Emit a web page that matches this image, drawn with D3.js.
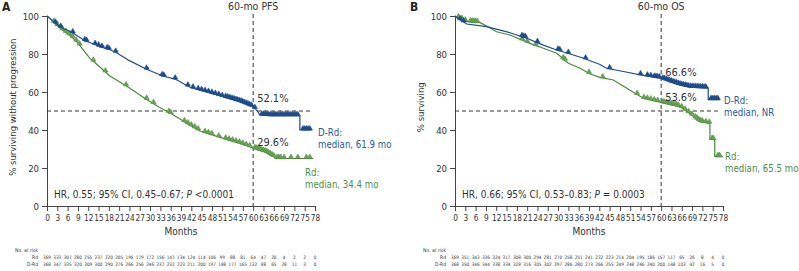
<!DOCTYPE html>
<html>
<head>
<meta charset="utf-8">
<script src="https://cdn.jsdelivr.net/npm/d3@7"></script>
<style>
  html, body { margin: 0; background: #fff; overflow: hidden; }
  svg { display: block; }
  svg text { font-family: "DejaVu Sans Condensed", "Liberation Sans Narrow", "Liberation Sans", sans-serif; fill: #333; }
</style>
</head>
<body>
<div class="km-plot"></div>
<script>
// tick labels
const months = [0, 3, 6, 9, 12, 15, 18, 21, 24, 27, 30, 33, 36, 39, 42, 45, 48, 51, 54, 57, 60, 63, 66, 69, 72, 75, 78];
const pctTicks = [0, 20, 40, 60, 80, 100];

// PFS curves [month, %]
const pfsDRd = [[0, 100], [1, 98.5], [3.8, 94.2], [7, 91.7], [11, 87], [14, 85], [15.4, 83.8], [17.8, 82.6], [20, 80.9],
  [24, 76.5], [29, 72], [33.7, 68.4], [37.3, 66.8], [41.6, 62.5], [44.5, 61], [48, 59.3], [51.3, 57.5], [56.2, 54.9],
  [60, 52.1], [61, 50.5], [62, 47.9], [64.9, 47.5], [73.6, 47.5], [73.6, 40], [77, 40]];
const pfsRd = [[0, 100], [1, 98.5], [3.8, 93.5], [7.2, 89.1], [9.1, 85.6], [10.6, 82.1], [12.5, 77.7], [14, 75.4],
  [18.3, 68.4], [23.7, 62.5], [29, 56.1], [32.7, 52], [36.8, 47.9], [40.7, 43.5], [44.5, 39.5], [51.3, 35.6],
  [56.2, 33], [60, 30.5], [63.9, 28.2], [66.8, 25], [77.5, 25]];
const pfsDRdCens = [2.5, 4, 7.5, 11, 11.5, 14, 15, 16, 17.5, 18, 20, 29, 33.5, 34, 37.3, 41, 42.5, 44, 45, 46, 47, 48,
  49, 50, 51, 52, 52.5, 53, 53.5, 54, 54.5, 55, 55.5, 56, 56.5, 57, 57.5, 58, 58.5, 59, 59.5, 60.5, 62.5, 63, 63.5,
  64, 64.5, 65, 65.5, 66, 66.5, 67, 67.5, 68, 68.5, 69, 69.5, 70, 70.5, 71, 71.5, 72, 72.5, 73, 74.5, 75, 75.5, 76, 76.5];
const pfsRdCens = [2, 3, 4.5, 5.5, 6.5, 7.5, 8.5, 9.5, 13.5, 17, 23, 29, 31, 35.5, 36, 40, 41, 42, 43, 44, 46, 47, 48,
  50, 52, 53, 54, 55, 56, 57, 58, 59, 60.5, 61, 61.5, 62, 62.5, 63, 63.5, 64, 64.5, 65, 65.5, 66, 67, 67.5, 68, 69,
  71, 73, 75.5, 76.5];

// OS curves [month, %]
const osDRd = [[0, 100], [1.3, 98.2], [3.4, 95.8], [9.2, 94.4], [16, 91.2], [20.9, 88.3], [25.7, 84.7], [29, 82.5],
  [33.5, 80], [37, 78], [42.2, 74.5], [44.1, 72.5], [49, 70.8], [54.3, 68.9], [60, 67.2], [62.5, 65.5], [65.5, 63.7],
  [68.4, 62.5], [73.7, 62], [73.7, 56], [77.1, 56]];
const osRd = [[0, 100], [1.5, 98.5], [3.4, 97], [7.3, 96.5], [10, 94], [12.1, 91.7], [16, 90], [21.8, 85.6],
  [25.7, 83], [29.6, 80.4], [33, 75.1], [36.4, 72.5], [39.3, 69.5], [42.2, 67.7], [46.1, 66.3], [50, 62],
  [54.8, 56.7], [60, 54.5], [65.5, 52.3], [68.9, 47.9], [71.3, 44.4], [74.2, 43.5], [74.2, 35], [75.6, 35],
  [75.6, 26], [78, 26]];
const osDRdCens = [1.5, 2.5, 19.5, 20, 20.5, 24, 30, 30.5, 33, 38, 45, 54, 56, 57, 58, 58.5, 59, 59.5, 60.5, 61, 61.5,
  62, 62.5, 63, 63.5, 64, 64.5, 65, 65.5, 66, 66.5, 67, 67.5, 68, 68.5, 69, 69.5, 70, 70.5, 71, 71.5, 72, 72.5, 73,
  74.5, 75, 75.5, 76, 76.5];
const osRdCens = [1, 2, 3, 4.5, 5, 5.5, 6, 6.5, 19.5, 21, 23.5, 31.5, 32, 39, 43, 53, 55, 56, 57, 58, 59, 60.5, 61,
  61.5, 62, 62.5, 63, 63.5, 64, 64.5, 65, 66, 67, 68, 69, 70, 70.5, 71, 71.5, 72, 73, 74, 74.8, 75.2, 76.5, 77];

// numbers at risk
const pfsRiskRd = [369, 333, 307, 280, 255, 237, 220, 205, 196, 179, 172, 156, 147, 134, 124, 114, 106, 99, 88, 81, 64, 47, 20, 4, 2, 2, 0];
const pfsRiskDRd = [368, 347, 335, 320, 309, 300, 290, 276, 266, 256, 246, 237, 232, 223, 211, 200, 197, 188, 177, 165, 132, 88, 65, 28, 11, 3, 0];
const osRiskRd = [369, 351, 343, 336, 324, 317, 308, 300, 294, 281, 270, 258, 251, 241, 232, 223, 214, 204, 195, 186, 157, 117, 65, 26, 8, 4, 0];
const osRiskDRd = [368, 350, 346, 344, 338, 334, 328, 316, 305, 302, 297, 286, 280, 273, 266, 255, 249, 248, 246, 240, 200, 148, 103, 42, 16, 5, 0];

const blue = '#1d4c8c';
const green = '#4a8a3a';

const svg = d3.select('.km-plot').append('svg')
  .attr('width', 799).attr('height', 271);

// y of the drawn curve at a censoring time
function yAt(pts, m) {
  for (let i = pts.length - 1; i > 0; i--) {
    const a = pts[i - 1], b = pts[i];
    if (m >= a[0] && m <= b[0]) {
      if (b[0] === a[0]) return b[1];
      return a[1] + (b[1] - a[1]) * (m - a[0]) / (b[0] - a[0]);
    }
  }
  return pts[pts.length - 1][1];
}

function drawPanel(p) {
  const x = d3.scaleLinear().domain([0, 78]).range([p.left, p.left + 268]);
  const y = d3.scaleLinear().domain([0, 100]).range([206, 16]);
  const g = svg.append('g');

  g.append('text').attr('x', p.left - 45).attr('y', 11)
    .attr('font-weight', 'bold').attr('font-size', 12).style('fill', '#222').text(p.letter);

  // axes
  const xa = g.append('g').attr('transform', 'translate(0,206)')
    .call(d3.axisBottom(x).tickValues(months).tickSize(5).tickSizeOuter(0));
  const ya = g.append('g').attr('transform', `translate(${p.left},0)`)
    .call(d3.axisLeft(y).tickValues(pctTicks).tickSize(5).tickSizeOuter(0));
  [xa, ya].forEach(a => {
    a.selectAll('path, line').attr('stroke', '#444');
  });
  xa.selectAll('text').attr('font-size', 8.2).attr('dy', '0.9em');
  ya.selectAll('text').attr('font-size', 9.5);

  g.append('text').attr('x', x(39)).attr('y', 235).attr('text-anchor', 'middle')
    .attr('font-size', 10).text('Months');
  g.append('text').attr('transform', `translate(${p.ylabX},${y(52)}) rotate(-90)`)
    .attr('text-anchor', 'middle').attr('font-size', 9.5).text(p.ylab);

  // reference lines
  g.append('line').attr('x1', x(60)).attr('x2', x(60)).attr('y1', 14).attr('y2', 206)
    .attr('stroke', '#333').attr('stroke-dasharray', '4,3');
  g.append('line').attr('x1', x(0)).attr('x2', x(p.hEnd)).attr('y1', y(50)).attr('y2', y(50))
    .attr('stroke', '#333').attr('stroke-dasharray', '4,3');
  g.append('text').attr('x', x(60)).attr('y', 10).attr('text-anchor', 'middle')
    .attr('font-size', 10.5).text(p.title);

  const line = d3.line().x(d => x(d[0])).y(d => y(d[1]));
  const series = [
    { pts: p.rd, cens: p.rdCens, color: green, fill: '#6aa556' },
    { pts: p.drd, cens: p.drdCens, color: blue, fill: blue }
  ];
  series.forEach(s => {
    g.append('path').datum(s.pts).attr('d', line)
      .attr('fill', 'none').attr('stroke', s.color).attr('stroke-width', 1.2);
    g.append('g').selectAll('path').data(s.cens).join('path')
      .attr('d', d3.symbol(d3.symbolTriangle, 12))
      .attr('transform', d => `translate(${x(d)},${y(yAt(s.pts, d)) - 1.5})`)
      .attr('fill', s.fill).attr('stroke', s.color).attr('stroke-width', 0.5);
  });

  // annotations
  p.notes.forEach(n => {
    g.append('text').attr('x', x(60) + 4).attr('y', n.y).attr('font-size', 11).text(n.t);
  });
  p.legend.forEach(l => {
    [l.a, l.b].forEach((s, i) => {
      g.append('text').attr('x', l.x).attr('y', l.y + i * 11.5).attr('font-size', 9.6)
        .style('fill', l.color).text(s);
    });
  });
  const hr = g.append('text').attr('x', x(0) + 7).attr('y', 198).attr('font-size', 10);
  hr.append('tspan').text(p.hr);
  hr.append('tspan').attr('font-style', 'italic').text('P');
  hr.append('tspan').text(p.pval);

  // risk table
  const rt = g.append('g');
  rt.append('text').attr('x', x(0) - 9).attr('y', 252).attr('text-anchor', 'end').attr('font-size', 5).text('No. at risk');
  [['Rd', p.riskRd, 259], ['D-Rd', p.riskDRd, 266]].forEach(([lab, vals, yy]) => {
    rt.append('text').attr('x', x(0) - 9).attr('y', yy).attr('text-anchor', 'end').attr('font-size', 5).text(lab);
    rt.selectAll(null).data(vals).join('text')
      .attr('x', (d, i) => x(months[i])).attr('y', yy).attr('text-anchor', 'middle').attr('font-size', 4.6)
      .text(d => d);
  });
}

drawPanel({
  letter: 'A', left: 47, ylabX: 16, ylab: '% surviving without progression', title: '60-mo PFS', hEnd: 77,
  drd: pfsDRd, rd: pfsRd, drdCens: pfsDRdCens, rdCens: pfsRdCens,
  notes: [{ t: '52.1%', y: 102 }, { t: '29.6%', y: 146 }],
  legend: [
    { a: 'D-Rd:', b: 'median, 61.9 mo', x: 318, y: 136, color: '#2a5a9a' },
    { a: 'Rd:', b: 'median, 34.4 mo', x: 305, y: 176, color: '#4f8f3f' }
  ],
  hr: 'HR, 0.55; 95% CI, 0.45–0.67; ', pval: ' <0.0001',
  riskRd: pfsRiskRd, riskDRd: pfsRiskDRd
});

drawPanel({
  letter: 'B', left: 455, ylabX: 424, ylab: '% surviving', title: '60-mo OS', hEnd: 76.5,
  drd: osDRd, rd: osRd, drdCens: osDRdCens, rdCens: osRdCens,
  notes: [{ t: '66.6%', y: 76 }, { t: '53.6%', y: 101 }],
  legend: [
    { a: 'D-Rd:', b: 'median, NR', x: 724, y: 104, color: '#2a5a9a' },
    { a: 'Rd:', b: 'median, 65.5 mo', x: 725, y: 160, color: '#4f8f3f' }
  ],
  hr: 'HR, 0.66; 95% CI, 0.53–0.83; ', pval: ' = 0.0003',
  riskRd: osRiskRd, riskDRd: osRiskDRd
});
</script>
</body>
</html>
